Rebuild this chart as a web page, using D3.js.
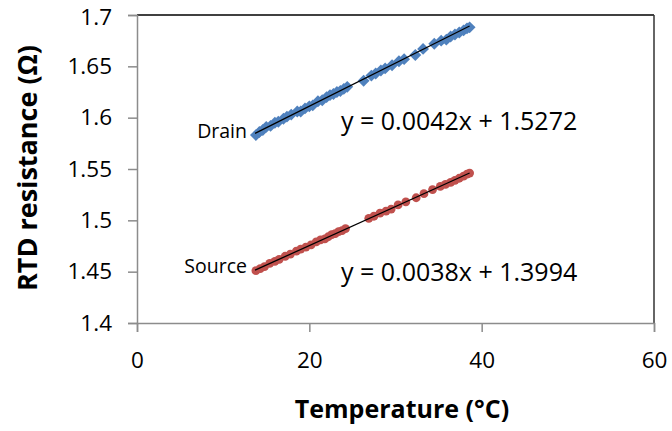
<!DOCTYPE html>
<html>
<head>
<meta charset="utf-8">
<script src="https://cdn.jsdelivr.net/npm/d3@7"></script>
<style>
  body { margin: 0; background: #fff; }
  svg text { font-family: "Open Sans", "Noto Sans", sans-serif; }
</style>
</head>
<body>
<div id="chart"></div>
<script>
// data
let xTicks = [0, 20, 40, 60];
let yTicks = [1.4, 1.45, 1.5, 1.55, 1.6, 1.65, 1.7];

let drainT = [13.8, 14.2, 14.6, 15.0, 15.5, 16.0, 16.4, 17.0, 17.4, 17.9, 18.6, 19.0, 19.5, 20.0, 20.4,
    21.0, 21.5, 22.0, 22.4, 22.8, 23.2, 23.6, 24.0, 24.4, 26.3, 27.2, 27.7, 28.3, 28.8, 29.6, 30.4,
    31.0, 32.3, 33.2, 34.5, 35.3, 35.9, 36.4, 36.9, 37.4, 37.9, 38.3, 38.6];
let drainR = [1.583, 1.586, 1.588, 1.591, 1.592, 1.595, 1.596, 1.599, 1.601, 1.603, 1.606, 1.606, 1.609, 1.611, 1.612,
    1.616, 1.617, 1.620, 1.622, 1.623, 1.625, 1.626, 1.628, 1.630, 1.636, 1.641, 1.643, 1.646, 1.648, 1.651, 1.655,
    1.657, 1.661, 1.667, 1.672, 1.675, 1.676, 1.679, 1.681, 1.683, 1.685, 1.687, 1.688];

let sourceT = [13.8, 14.3, 14.8, 15.4, 16.0, 16.5, 17.2, 17.8, 18.5, 19.0, 19.6, 20.2, 20.8, 21.3, 21.8,
    22.2, 22.6, 23.0, 23.4, 23.8, 24.2, 26.9, 27.5, 28.2, 28.9, 29.5, 30.3, 31.2, 32.4, 33.3, 34.3,
    35.2, 35.8, 36.4, 36.9, 37.4, 37.9, 38.3, 38.6];
let sourceR = [1.451, 1.453, 1.455, 1.458, 1.460, 1.462, 1.465, 1.467, 1.470, 1.472, 1.474, 1.476, 1.479, 1.481, 1.482,
    1.484, 1.486, 1.487, 1.489, 1.490, 1.492, 1.502, 1.504, 1.507, 1.509, 1.511, 1.515, 1.518, 1.522, 1.526, 1.530,
    1.533, 1.535, 1.537, 1.539, 1.541, 1.543, 1.545, 1.546];

let fits = [
    { name: "Drain", slope: 0.0042, intercept: 1.5272, t0: 13.7, t1: 38.6, eq: "y = 0.0042x + 1.5272" },
    { name: "Source", slope: 0.0038, intercept: 1.3994, t0: 13.7, t1: 38.6, eq: "y = 0.0038x + 1.3994" }
];

let width = 672, height = 431;
let margin = { left: 137, right: 18, top: 15, bottom: 108 };
let plotW = width - margin.left - margin.right, plotH = height - margin.top - margin.bottom;

let svg = d3.select("#chart").append("svg")
    .attr("width", width)
    .attr("height", height);

let x = d3.scaleLinear().domain([0, 60]).range([0, plotW]);
let y = d3.scaleLinear().domain([1.4, 1.7]).range([plotH, 0]);

let g = svg.append("g").attr("transform", "translate(" + margin.left + "," + margin.top + ")");

// frame: top and right dark
g.append("line").attr("x1", 0).attr("x2", plotW).attr("y1", 0).attr("y2", 0)
    .style("stroke", "#000").style("stroke-width", 1.5);
g.append("line").attr("x1", plotW).attr("x2", plotW).attr("y1", 0).attr("y2", plotH)
    .style("stroke", "#333").style("stroke-width", 1.5);

// axes
let yAxis = g.append("g")
    .call(d3.axisLeft(y).tickValues(yTicks).tickSize(9).tickPadding(16).tickFormat(d => String(+d.toFixed(2))));
let xAxis = g.append("g").attr("transform", "translate(0," + plotH + ")")
    .call(d3.axisBottom(x).tickValues(xTicks).tickSize(9).tickPadding(20));

[yAxis, xAxis].forEach(function (a) {
    a.select(".domain").style("stroke", "#8c8c8c").style("stroke-width", 1.5);
    a.selectAll(".tick line").style("stroke", "#8c8c8c").style("stroke-width", 1.5);
    a.selectAll(".tick text").attr("font-size", 22.5).style("fill", "#000");
});
// keep the top label inside the page
yAxis.selectAll(".tick text").filter(d => d === 1.7).attr("dy", "0.4em");

// markers
let drainData = drainT.map((t, i) => ({ t: t, r: drainR[i] }));
let sourceData = sourceT.map((t, i) => ({ t: t, r: sourceR[i] }));

g.append("g").selectAll("path").data(drainData).enter().append("path")
    .attr("transform", d => "translate(" + x(d.t) + "," + y(d.r) + ")")
    .attr("d", d3.symbol().type(d3.symbolDiamond2).size(90))
    .style("fill", "#4f81bd");

g.append("g").selectAll("circle").data(sourceData).enter().append("circle")
    .attr("cx", d => x(d.t))
    .attr("cy", d => y(d.r))
    .attr("r", 4.4)
    .style("fill", "#c0504d");

// trend lines
fits.forEach(function (f) {
    g.append("line")
        .attr("x1", x(f.t0)).attr("y1", y(f.slope * f.t0 + f.intercept))
        .attr("x2", x(f.t1)).attr("y2", y(f.slope * f.t1 + f.intercept))
        .style("stroke", "#000").style("stroke-width", 1.3);
});

// series labels and equations
svg.append("text").attr("x", 247).attr("y", 138).attr("text-anchor", "end")
    .attr("font-size", 19.5).text("Drain");
svg.append("text").attr("x", 247).attr("y", 273).attr("text-anchor", "end")
    .attr("font-size", 19.5).text("Source");
svg.append("text").attr("x", 341).attr("y", 130).attr("font-size", 25).text(fits[0].eq);
svg.append("text").attr("x", 341).attr("y", 281).attr("font-size", 25).text(fits[1].eq);

// axis titles
svg.append("text")
    .attr("transform", "translate(37," + 168 + ") rotate(-90)")
    .attr("text-anchor", "middle")
    .attr("font-size", 27).attr("font-weight", "bold")
    .text("RTD resistance (Ω)");
svg.append("text")
    .attr("x", 402).attr("y", 418)
    .attr("text-anchor", "middle")
    .attr("font-size", 25).attr("font-weight", "bold")
    .text("Temperature (°C)");
</script>
</body>
</html>
